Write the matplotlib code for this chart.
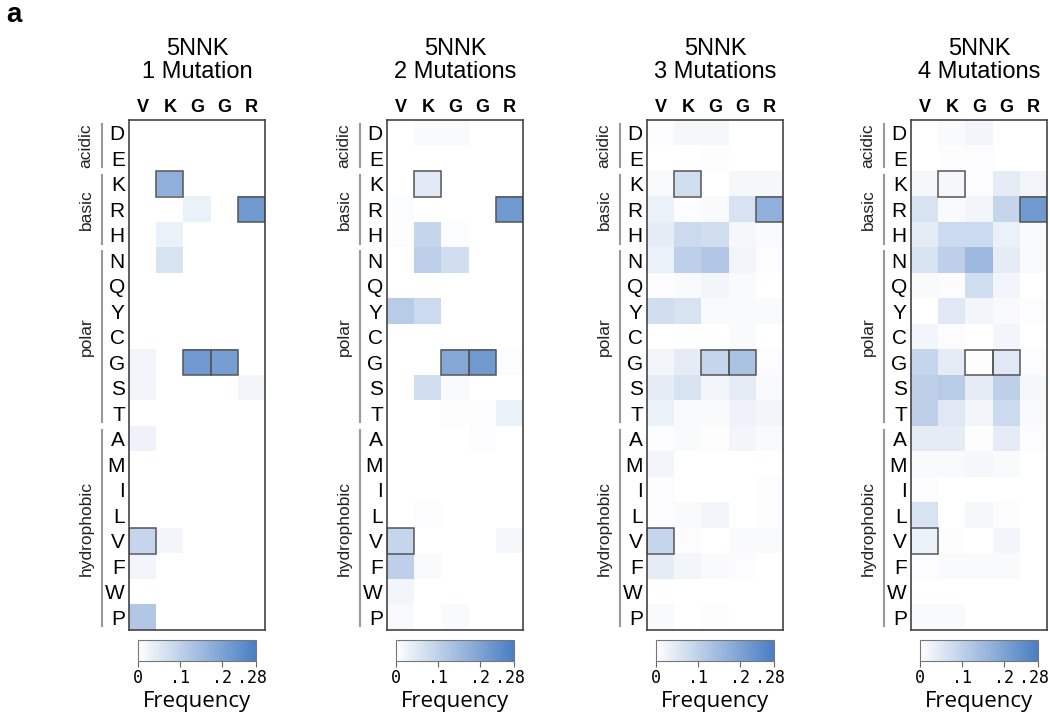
import numpy as np
import matplotlib
matplotlib.use("Agg")
import matplotlib.pyplot as plt
from matplotlib.colors import LinearSegmentedColormap
from matplotlib.patches import Rectangle
from matplotlib.transforms import ScaledTranslation

plt.rcParams['font.family'] = ['Liberation Sans', 'DejaVu Sans']

# residues (rows) and wild-type sequence (columns)
residues = ['D', 'E', 'K', 'R', 'H', 'N', 'Q', 'Y', 'C', 'G', 'S', 'T',
            'A', 'M', 'I', 'L', 'V', 'F', 'W', 'P']
wt_seq = ['V', 'K', 'G', 'G', 'R']
groups = [('acidic', 'D', 'E'), ('basic', 'K', 'H'),
          ('polar', 'N', 'T'), ('hydrophobic', 'A', 'P')]
titles = ['5NNK\n1 Mutation', '5NNK\n2 Mutations', '5NNK\n3 Mutations', '5NNK\n4 Mutations']
cbar_ticks = [0, 0.1, 0.2, 0.28]
cbar_ticklabels = ['0', '.1', '.2', '.28']
vmax = 0.28

# frequencies, one row per residue, columns V K G G R
freq_1 = [
    [0, 0, 0, 0, 0],        # D
    [0, 0, 0, 0, 0],        # E
    [0, 0.17, 0, 0, 0],     # K
    [0, 0, 0.03, 0, 0.22],  # R
    [0, 0.03, 0, 0, 0],     # H
    [0, 0.06, 0, 0, 0],     # N
    [0, 0, 0, 0, 0],        # Q
    [0, 0, 0, 0, 0],        # Y
    [0, 0, 0, 0, 0],        # C
    [0.02, 0, 0.22, 0.21, 0],  # G
    [0.02, 0, 0, 0, 0.02],  # S
    [0, 0, 0, 0, 0],        # T
    [0.025, 0, 0, 0, 0],    # A
    [0, 0, 0, 0, 0],        # M
    [0, 0, 0, 0, 0],        # I
    [0, 0, 0, 0, 0],        # L
    [0.09, 0.02, 0, 0, 0],  # V
    [0.02, 0, 0, 0, 0],     # F
    [0, 0, 0, 0, 0],        # W
    [0.12, 0, 0, 0, 0],     # P
]
freq_2 = [
    [0, 0.01, 0.01, 0, 0],
    [0, 0, 0, 0, 0],
    [0, 0.045, 0, 0, 0],
    [0.006, 0, 0, 0, 0.22],
    [0.006, 0.09, 0.006, 0, 0],
    [0, 0.10, 0.07, 0, 0],
    [0, 0, 0, 0, 0],
    [0.11, 0.08, 0, 0, 0],
    [0, 0, 0, 0, 0],
    [0, 0, 0.19, 0.22, 0.006],
    [0, 0.07, 0.01, 0, 0],
    [0, 0, 0.003, 0.005, 0.03],
    [0, 0, 0, 0.005, 0],
    [0, 0, 0, 0, 0],
    [0, 0, 0, 0, 0],
    [0, 0.005, 0, 0, 0],
    [0.09, 0, 0, 0, 0.015],
    [0.10, 0.01, 0, 0, 0],
    [0.02, 0, 0, 0, 0],
    [0.012, 0, 0.01, 0, 0],
]
freq_3 = [
    [0.005, 0.015, 0.015, 0, 0],
    [0, 0, 0.003, 0, 0],
    [0.01, 0.07, 0, 0.015, 0.015],
    [0.03, 0.005, 0.01, 0.06, 0.17],
    [0.04, 0.08, 0.07, 0.015, 0.01],
    [0.03, 0.10, 0.12, 0.02, 0.005],
    [0.005, 0.01, 0.02, 0.01, 0],
    [0.07, 0.06, 0.01, 0.01, 0.01],
    [0, 0, 0, 0.01, 0],
    [0.02, 0.04, 0.09, 0.13, 0.005],
    [0.04, 0.06, 0.02, 0.04, 0.01],
    [0.03, 0.01, 0.01, 0.025, 0.02],
    [0.005, 0.01, 0.003, 0.02, 0.01],
    [0.02, 0, 0, 0, 0],
    [0.005, 0, 0, 0, 0.005],
    [0.005, 0.01, 0.02, 0, 0.005],
    [0.09, 0.005, 0, 0.01, 0.01],
    [0.04, 0.02, 0.01, 0.005, 0],
    [0, 0, 0, 0, 0],
    [0.01, 0, 0.003, 0, 0],
]
freq_4 = [
    [0, 0.01, 0.02, 0, 0],
    [0, 0.003, 0.005, 0, 0],
    [0.015, 0.015, 0.005, 0.04, 0.02],
    [0.06, 0.01, 0.02, 0.09, 0.22],
    [0.04, 0.08, 0.08, 0.03, 0.01],
    [0.06, 0.10, 0.15, 0.04, 0.01],
    [0.01, 0.005, 0.07, 0.02, 0],
    [0, 0.05, 0.02, 0.01, 0.005],
    [0.02, 0.005, 0, 0.02, 0],
    [0.09, 0.04, 0.003, 0.05, 0.005],
    [0.10, 0.11, 0.04, 0.10, 0.015],
    [0.10, 0.05, 0.02, 0.08, 0.01],
    [0.04, 0.04, 0.003, 0.04, 0.005],
    [0.01, 0.01, 0.015, 0.01, 0],
    [0.005, 0, 0, 0, 0],
    [0.06, 0, 0.015, 0.005, 0],
    [0.03, 0.003, 0, 0.02, 0],
    [0.005, 0.01, 0.01, 0.01, 0],
    [0, 0, 0, 0, 0],
    [0.01, 0.01, 0, 0, 0],
]
panels = [freq_1, freq_2, freq_3, freq_4]

cmap = LinearSegmentedColormap.from_list('wb', ['#ffffff', '#4a7ec4'])

W, H = 1050, 720
fig = plt.figure(figsize=(W / 100, H / 100), dpi=100)


def px_rect(x0, y0, x1, y1):
    return [x0 / W, 1 - y1 / H, (x1 - x0) / W, (y1 - y0) / H]


box_lefts = [129, 387, 647, 911]
box_w = 136
box_top, box_bot = 120, 630

for left, data, title in zip(box_lefts, panels, titles):
    ax = fig.add_axes(px_rect(left, box_top, left + box_w, box_bot))
    arr = np.array(data)
    im = ax.imshow(arr, cmap=cmap, vmin=0, vmax=vmax, aspect='auto',
                   interpolation='nearest')
    # wild-type boxes
    for j, aa in enumerate(wt_seq):
        i = residues.index(aa)
        ax.add_patch(Rectangle((j - 0.5, i - 0.5), 1, 1, fill=False,
                               edgecolor='#555555', lw=1.1))
    ax.set_xticks(range(len(wt_seq)))
    ax.set_xticklabels(wt_seq, fontsize=13, fontweight='bold')
    ax.xaxis.tick_top()
    ax.set_yticks(range(len(residues)))
    ax.set_yticklabels(residues, fontsize=15)
    ax.tick_params(length=0, pad=3)
    ax.tick_params(axis='x', pad=3)
    for s in ax.spines.values():
        s.set_color('#444444')
        s.set_linewidth(1.2)
    ax.set_title(title, fontsize=17, pad=30, linespacing=1.05)

    # residue groups
    trans = ax.get_yaxis_transform()
    for name, start, end in groups:
        i0, i1 = residues.index(start), residues.index(end)
        ax.plot([-27 / box_w] * 2, [i0 - 0.35, i1 + 0.35], transform=trans,
                color='#999999', lw=1.5, clip_on=False)
        ax.text(-43 / box_w, (i0 + i1) / 2, name, transform=trans, rotation=90,
                ha='center', va='center', fontsize=12.5, color='#222222')

    # colorbar
    cax = fig.add_axes(px_rect(left + 9, box_bot + 10, left + box_w - 9, box_bot + 31))
    cb = fig.colorbar(im, cax=cax, orientation='horizontal', ticks=cbar_ticks)
    cb.ax.set_xticklabels(cbar_ticklabels, fontsize=12, family='DejaVu Sans Mono')
    cb.ax.tick_params(length=4, color='#666666', pad=2)
    last = cb.ax.get_xticklabels()[-1]
    last.set_transform(last.get_transform() + ScaledTranslation(-4 / 100, 0, fig.dpi_scale_trans))
    cb.outline.set_edgecolor('#777777')
    cb.set_label('Frequency', fontsize=16, family='Open Sans', labelpad=3)

fig.text(6 / W, 1 - 15 / H, 'a', fontsize=20, fontweight='bold', va='center')

fig.savefig('out.png', dpi=100)
